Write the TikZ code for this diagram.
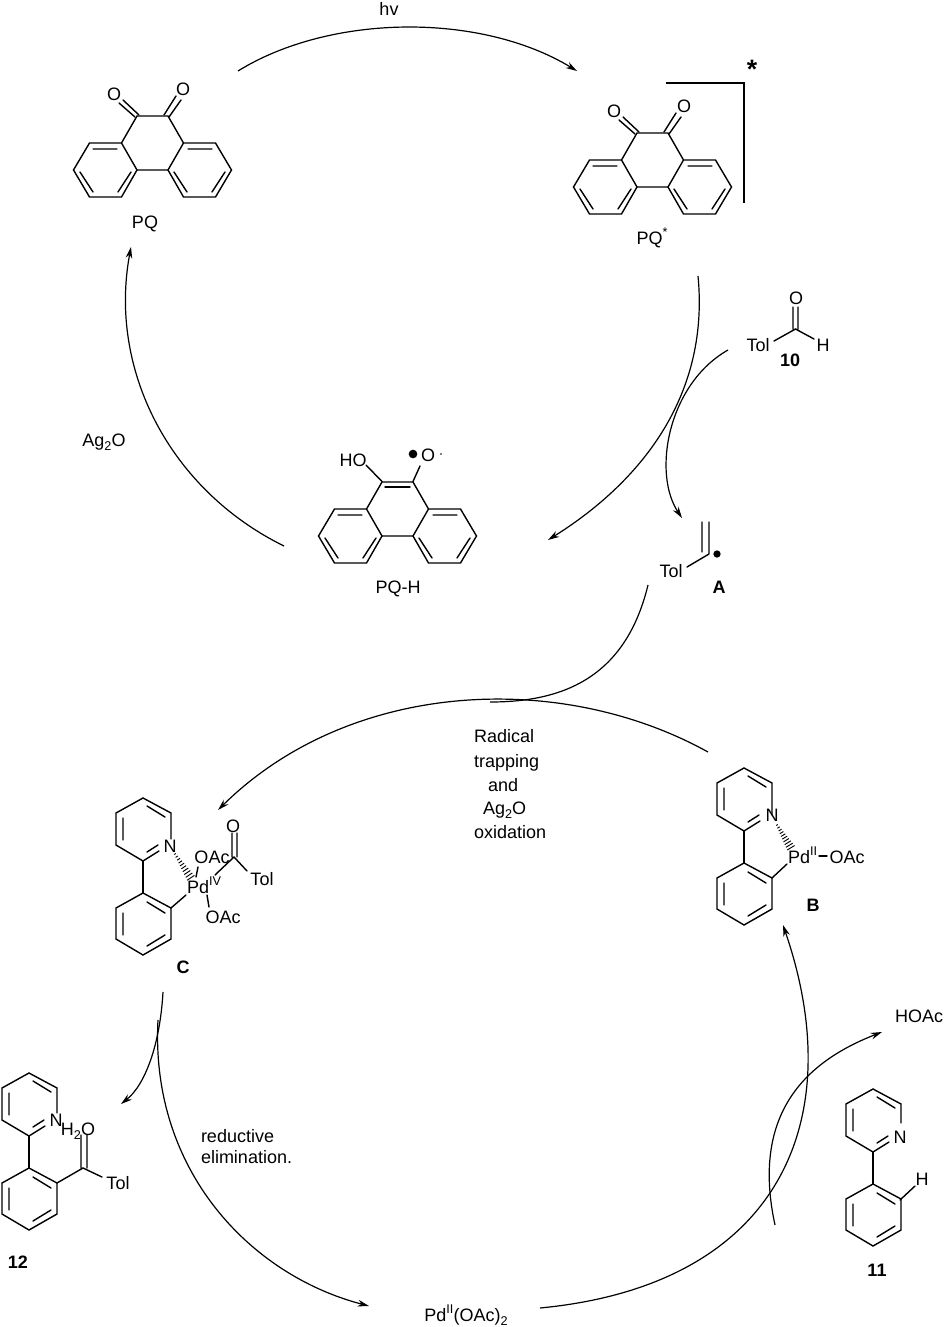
\documentclass[tikz,border=0pt]{standalone}
\usepackage{fontspec}
\setmainfont{Liberation Sans}
\usetikzlibrary{arrows.meta,calc}
\newcommand{\supr}[1]{\raisebox{.42em}{\fontsize{9.5}{10}\selectfont #1}}
\newcommand{\subr}[1]{\raisebox{-.25em}{\fontsize{9.5}{10}\selectfont #1}}
\newcommand{\phenring}[2]{%
 \begin{scope}[shift={(#1,#2)}]
 \draw[bond] (-15.5,-54)--(-31,-27)--(-63,-27)--(-79,0)--(-63,27)--(-31,27)--(-15.5,0)--(15.5,0)--(31,27)--(63,27)--(79,0)--(63,-27)--(31,-27)--(15.5,-54)--cycle;
 \draw[bond] (-31,-27)--(-15.5,0) (31,-27)--(15.5,0);
 \draw[bond] (-59.5,-21)--(-35.5,-21) (-72.5,2)--(-59.5,22) (-34.5,22)--(-21.5,2);
 \draw[bond] (59.5,-21)--(35.5,-21) (72.5,2)--(59.5,22) (34.5,22)--(21.5,2);
 \end{scope}}
\newcommand{\dione}[2]{%
 \begin{scope}[shift={(#1,#2)}]
 \draw[bond] (-13.5,-55)--(-29.5,-70) (-17.5,-53)--(-33.5,-67);
 \draw[bond] (11.5,-55)--(23.5,-74) (16.5,-53)--(28.5,-70);
 \end{scope}}
% pyridyl-aryl skeleton; origin at pyridine C2; #3 = y of the end of the C-N ring bond
\newcommand{\biaryl}[3]{%
 \begin{scope}[shift={(#1,#2)}]
 \draw[bond] (0,0)--(16,-10) (0,0)--(-27,-16)--(-27,-48)--(0,-63)--(28,-48)--(28,#3);
 \draw[bond] (4,-9)--(15,-16) (-20,-21)--(-20,-43) (4,-55)--(22,-44);
 \draw[bond] (0,0)--(0,32);
 \draw[bond] (0,32)--(28,47)--(28,78)--(0,94)--(-27,78)--(-27,47)--cycle;
 \draw[bond] (4,41)--(22,52) (-20,52)--(-20,74) (4,85)--(22,74);
 \end{scope}}
\newcommand{\hash}[2]{%
 \foreach \t in {0,0.11,...,1.01}{%
  \pgfmathsetmacro{\w}{0.7+2.6*\t}
  \draw[line width=.7pt] ($(#1)!\t!(#2)!\w pt!90:(#2)$)--($(#1)!\t!(#2)!\w pt!-90:(#2)$);
 }}
\tikzset{
 bond/.style={line width=1.05pt,line join=miter,line cap=round},
 arr/.style={line width=.9pt,-{Stealth[length=8.5pt,width=5pt]}},
 plain/.style={line width=.9pt},
 tx/.style={inner sep=0pt,outer sep=0pt,text height=11.8pt,text depth=2.2pt,font=\fontsize{13.5}{16}\selectfont},
 lb/.style={tx,font=\fontsize{13.5}{16}\selectfont\bfseries},
 txl/.style={tx,anchor=west}
}
\begin{document}
\begin{tikzpicture}[x=.75pt,y=-.75pt]
\useasboundingbox (0,0) rectangle (945,1327);
% --- PQ
\phenring{152.5}{170}\dione{152.5}{170}
\node[tx] (oa) at (114,94) {O};
\node[tx] (ob) at (183,89) {O};
\node[tx] (pq) at (145,222) {PQ};
% --- PQ*
\phenring{652.5}{187}\dione{652.5}{187}
\node[tx] (oc) at (614,111) {O};
\node[tx] (od) at (684,106) {O};
\node[tx] (pqs) at (652,238) {PQ\supr{*}};
\draw[line width=1.3pt,line cap=butt] (666,83)--(744,83)--(744,203);
\node[inner sep=0pt,font=\fontsize{20}{20}\selectfont\bfseries] (star) at (752,69) {*};
% --- PQ-H
\phenring{397.5}{536}
\draw[bond] (385,487)--(410,487);
\draw[bond] (366,465)--(382,481.5) (420,466)--(413,481.5);
\node[tx] (ho) at (353,460) {HO};
\node[tx] (oe) at (428,455) {O};
\node[circle,fill=black,inner sep=0pt,minimum size=6.5pt] (rad) at (413,454) {};
\node[circle,fill=black,inner sep=0pt,minimum size=1.2pt] (radb) at (441,454) {};
\node[tx] (pqh) at (398,587) {PQ-H};
% --- 10
\draw[bond] (774,341)--(795.5,329)--(814,339) (793,329)--(793,307) (798,329)--(798,307);
\node[tx] (ta) at (758,345) {Tol};
\node[tx] (of) at (796,298) {O};
\node[tx] (ha) at (823,345) {H};
\node[lb] (n10) at (790,360) {10};
% --- A
\draw[bond] (687,567)--(709,554) (702,552)--(702,522) (709,554)--(709,522);
\node[tx] (tb) at (671,571) {Tol};
\node[circle,fill=black,inner sep=0pt,minimum size=5.5pt] (rada) at (717,554) {};
\node[lb] (la) at (719,587) {A};
% --- C
\biaryl{143}{861}{-22}
\coordinate (cn) at (175,854); \coordinate (cp) at (191,878);
\hash{cn}{cp}
\draw[bond] (171,908)--(186,895) (198,867)--(196,877) (207,895)--(209,907);
\draw[bond] (215,875)--(234,857)--(247,871) (232,857)--(232,833) (237,857)--(237,833);
\node[tx] (nc) at (170,846) {N};
\node[tx,anchor=west] (pdc) at (187,887) {Pd\supr{IV}};
\node[tx] (oac) at (212,857) {OAc};
\node[tx] (oad) at (223,917) {OAc};
\node[tx] (og) at (233,826) {O};
\node[tx] (tc) at (262,879) {Tol};
\node[lb] (lc) at (183,967) {C};
% --- B
\biaryl{744}{831}{-16}
\coordinate (bn) at (777,825); \coordinate (bp) at (791,848);
\hash{bn}{bp}
\draw[bond] (772,878)--(787,864);
\node[tx] (nb) at (772,815) {N};
\node[tx,anchor=west] (pdb) at (788,857) {Pd\supr{II}};
\draw[bond] (819,856)--(827,856);
\node[tx] (oab) at (847,857) {OAc};
\node[lb] (lb) at (813,905) {B};
% --- 12
\biaryl{29}{1136}{-23}
\draw[bond] (57,1183)--(83,1168)--(102,1177) (81,1168)--(81,1135) (87,1168)--(87,1135);
\node[tx] (nd) at (56,1120) {N};
\node[tx] (wat) at (78,1129) {H\subr{2}O};
\node[tx] (te) at (118,1183) {Tol};
\node[lb] (l12) at (18,1262) {12};
% --- 11
\biaryl{873}{1152}{-29}
\draw[bond] (900,1200)--(915,1186);
\node[tx] (nf) at (900,1137) {N};
\node[tx] (hb) at (922,1179) {H};
\node[lb] (l11) at (877,1270) {11};
% --- labels
\node[tx] (hv) at (389,9) {hv};
\node[tx] (ag) at (104,440) {Ag\subr{2}O};
\node[txl] (r1) at (474,736) {Radical};
\node[txl] (r2) at (474,761) {trapping};
\node[txl] (r3) at (488,785) {and};
\node[txl] (r4) at (483,808) {Ag\subr{2}O};
\node[txl] (r5) at (474,832) {oxidation};
\node[txl] (e1) at (201,1136) {reductive};
\node[txl] (e2) at (201,1157) {elimination.};
\node[tx] (pdo) at (466,1315) {Pd\supr{II}(OAc)\subr{2}};
\node[tx] (hoac) at (919,1016) {HOAc};
% --- connectors
\coordinate (a1) at (238,71); \coordinate (a2) at (577,71);
\draw[arr] (a1) .. controls (330,14) and (480,12) .. (a2);
\coordinate (b1) at (698,276); \coordinate (b2) at (548,540);
\draw[arr] (b1) .. controls (710,400) and (636,485) .. (b2);
\coordinate (c1) at (728,350); \coordinate (c2) at (682,518);
\draw[arr] (c1) .. controls (668,384) and (652,473) .. (c2);
\coordinate (d1) at (284,546); \coordinate (d2) at (131,247);
\draw[arr] (d1) .. controls (170,490) and (108,370) .. (d2);
\coordinate (e1c) at (648,585); \coordinate (e2c) at (490,702);
\draw[plain] (e1c) .. controls (625,680) and (560,702) .. (e2c);
\coordinate (f1) at (708,752); \coordinate (f2) at (218,810);
\draw[arr] (f1) .. controls (560,670) and (350,680) .. (f2);
\coordinate (g1) at (163,992); \coordinate (g2) at (121,1104);
\draw[arr] (g1) .. controls (160,1045) and (145,1085) .. (g2);
\coordinate (h1) at (158,1020); \coordinate (h2) at (369,1306);
\draw[arr] (h1) .. controls (150,1170) and (250,1275) .. (h2);
\coordinate (i1) at (540,1308); \coordinate (i2) at (783,925);
\draw[arr] (i1) .. controls (780,1285) and (850,1120) .. (i2);
\coordinate (j1) at (775,1225); \coordinate (j2) at (882,1032);
\draw[arr] (j1) .. controls (750,1110) and (810,1060) .. (j2);
\end{tikzpicture}
\end{document}
